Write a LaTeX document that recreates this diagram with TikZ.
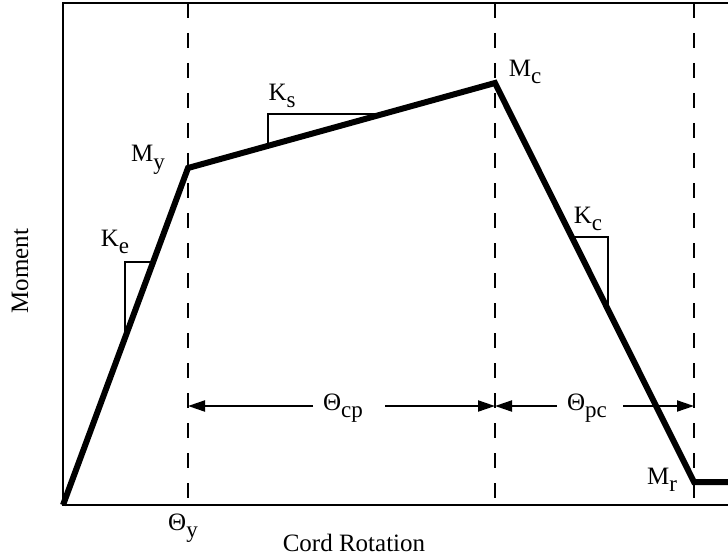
\documentclass[tikz,border=0pt]{standalone}
\usepackage{fontspec}
\setmainfont{Liberation Serif}
\usetikzlibrary{arrows.meta,calc}
\newcommand{\subtxt}[2]{#1\raisebox{-0.3em}{\fontsize{23}{25}\selectfont #2}}

\begin{document}
\begin{tikzpicture}[x=1pt,y=-1pt]
\tikzset{
  frameline/.style={draw=black,line width=2pt},
  guideline/.style={draw=black,line width=2.4pt,dash pattern=on 15pt off 15pt},
  backbone/.style={draw=black,line width=6pt,line join=miter},
  slopeline/.style={draw=black,line width=1.4pt},
  dimarrow/.style={draw=black,line width=2pt,-{Triangle[length=17pt,width=11pt]}},
  plotlabel/.style={font=\fontsize{25}{29}\selectfont,inner sep=0pt}
}
\useasboundingbox (0,0) rectangle (728,559);
% frame of the plot
\coordinate (f_TL) at (63,3);
\coordinate (f_BL) at (63,505);
\coordinate (f_TR) at (728,3);
\coordinate (f_BR) at (728,505);
\draw[frameline] (f_TR) -- (f_TL) -- (f_BL) -- (f_BR);
% backbone points
\coordinate (p_O) at (63,505);
\coordinate (p_Y) at (188,168);
\coordinate (p_C) at (495,83);
\coordinate (p_R) at (694,482);
\coordinate (p_E) at (728,482);
% dashed guides
\foreach \x/\n in {188/Y,495/C,694/R}{
  \coordinate (g_\n top) at (\x,3);
  \coordinate (g_\n bot) at (\x,500);
  \coordinate (g_\n arr) at (\x,406);
  \draw[guideline] (g_\n top) -- (g_\n bot);
}
\draw[backbone] (p_O) -- (p_Y) -- (p_C) -- (p_R) -- (p_E);
% slope triangles
\draw[slopeline] ($(p_O)!0.496!(p_Y)$) |- ($(p_O)!0.721!(p_Y)$);
\draw[slopeline] ($(p_Y)!0.261!(p_C)$) |- ($(p_Y)!0.635!(p_C)$);
\draw[slopeline] ($(p_C)!0.386!(p_R)$) -| ($(p_C)!0.568!(p_R)$);
% labels
\node[plotlabel] (l_My) at (148,160) {\subtxt{M}{y}};
\node[plotlabel] (l_Mc) at (525,72) {\subtxt{M}{c}};
\node[plotlabel] (l_Mr) at (662,480) {\subtxt{M}{r}};
\node[plotlabel] (l_Ke) at (115,242) {\subtxt{K}{e}};
\node[plotlabel] (l_Ks) at (282,96) {\subtxt{K}{s}};
\node[plotlabel] (l_Kc) at (588,219) {\subtxt{K}{c}};
\node[plotlabel] (l_ty) at (183,528) {\subtxt{Θ}{y}};
\node[plotlabel] (l_x) at (354,543) {Cord Rotation};
\node[plotlabel,rotate=90] (l_y) at (20,271) {Moment};
% rotation ranges
\node[plotlabel] (l_cp) at (343,408) {\subtxt{Θ}{cp}};
\node[plotlabel] (l_pc) at (587,408) {\subtxt{Θ}{pc}};
\coordinate (a_cpL) at (313,406);
\coordinate (a_cpR) at (385,406);
\coordinate (a_pcL) at (557,406);
\coordinate (a_pcR) at (623,406);
\draw[dimarrow] (a_cpL) -- (g_Yarr);
\draw[dimarrow] (a_cpR) -- (g_Carr);
\draw[dimarrow] (a_pcL) -- (g_Carr);
\draw[dimarrow] (a_pcR) -- (g_Rarr);
\end{tikzpicture}
\end{document}
